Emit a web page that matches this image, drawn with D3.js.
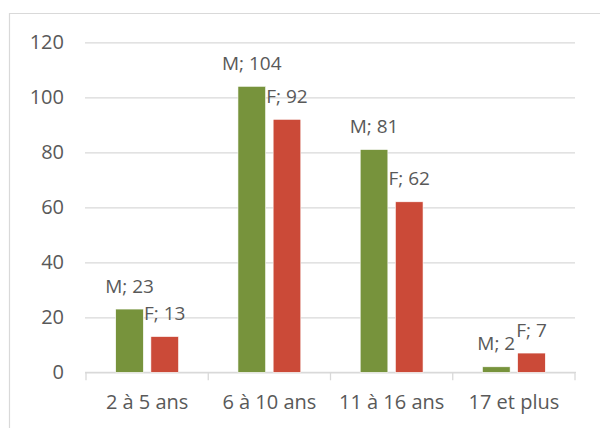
<!DOCTYPE html>
<html>
<head>
<meta charset="utf-8">
<script src="https://cdn.jsdelivr.net/npm/d3@7"></script>
<style>
  html, body { margin: 0; padding: 0; background: #fff; }
  svg { display: block; }
</style>
</head>
<body>
<svg id="chart" width="600" height="428"></svg>
<script>
// ---- data ----
const categories = ["2 à 5 ans", "6 à 10 ans", "11 à 16 ans", "17 et plus"];
const seriesNames = ["M", "F"];
const valuesM = [23, 104, 81, 2];
const valuesF = [13, 92, 62, 7];
const yTicks = [0, 20, 40, 60, 80, 100, 120];
const seriesColors = ["#77933C", "#CB4A38"];

// ---- layout ----
const svg = d3.select("#chart");
const W = 600, H = 428;
const plot = { left: 86, right: 575, top: 42.3, bottom: 372.3 };
const font = "'Open Sans', 'DejaVu Sans', sans-serif";
const textColor = "#595959";
const gridColor = "#D9D9D9";

// chart area border
svg.append("path")
  .attr("d", `M9.5,${H + 2} L9.5,13.5 L${W + 2},13.5`)
  .attr("fill", "none")
  .attr("stroke", gridColor)
  .attr("stroke-width", 1.2);

const x = d3.scaleBand().domain(categories).range([plot.left, plot.right]).padding(0);
const bw = x.bandwidth();
const xInner = d3.scaleBand().domain(seriesNames)
  .range([0.243 * bw, 0.757 * bw]).paddingInner(0.214).paddingOuter(0);
const y = d3.scaleLinear().domain([0, 120]).range([plot.bottom, plot.top]);

// gridlines + y labels via axis
const yAxis = d3.axisLeft(y).tickValues(yTicks)
  .tickSize(-(plot.right - plot.left + 1)).tickPadding(21);
const gy = svg.append("g").attr("transform", `translate(${plot.left - 1},0)`).call(yAxis);
gy.select(".domain").remove();
gy.selectAll(".tick line").attr("stroke", gridColor).attr("stroke-width", 1.3);
gy.selectAll(".tick text")
  .attr("fill", textColor).attr("font-family", font).attr("font-size", 20);

// x axis
const xAxis = d3.axisBottom(x).tickSize(0).tickPadding(23);
const gx = svg.append("g").attr("transform", `translate(0,${plot.bottom})`).call(xAxis);
gx.select(".domain").attr("stroke", gridColor).attr("stroke-width", 1.3)
  .attr("d", `M${plot.left - 1},0H${plot.right + 1}`);
gx.selectAll(".tick text")
  .attr("fill", textColor).attr("font-family", font).attr("font-size", 20);
// category boundary tick marks
const bounds = categories.map(c => x(c)).concat([x(categories[categories.length - 1]) + bw]);
gx.selectAll(".bound").data(bounds).enter().append("line")
  .attr("class", "bound")
  .attr("x1", d => d).attr("x2", d => d)
  .attr("y1", 0).attr("y2", 8)
  .attr("stroke", gridColor).attr("stroke-width", 1.3);

// bars
const seriesData = [valuesM, valuesF];
const rows = [];
categories.forEach((c, i) => {
  seriesNames.forEach((s, j) => rows.push({ cat: c, series: s, value: seriesData[j][i], color: seriesColors[j] }));
});

svg.append("g").selectAll("rect").data(rows).enter().append("rect")
  .attr("x", d => x(d.cat) + xInner(d.series))
  .attr("width", xInner.bandwidth())
  .attr("y", d => y(d.value))
  .attr("height", d => y(0) - y(d.value))
  .attr("fill", d => d.color)
  .attr("stroke", "#ffffff")
  .attr("stroke-width", 0.6);

// data labels
svg.append("g").selectAll("text").data(rows).enter().append("text")
  .attr("x", d => x(d.cat) + xInner(d.series) + xInner.bandwidth() / 2)
  .attr("y", d => y(d.value) - 16.5)
  .attr("text-anchor", "middle")
  .attr("fill", textColor)
  .attr("font-family", font)
  .attr("font-size", 19)
  .text(d => `${d.series}; ${d.value}`);
</script>
</body>
</html>
